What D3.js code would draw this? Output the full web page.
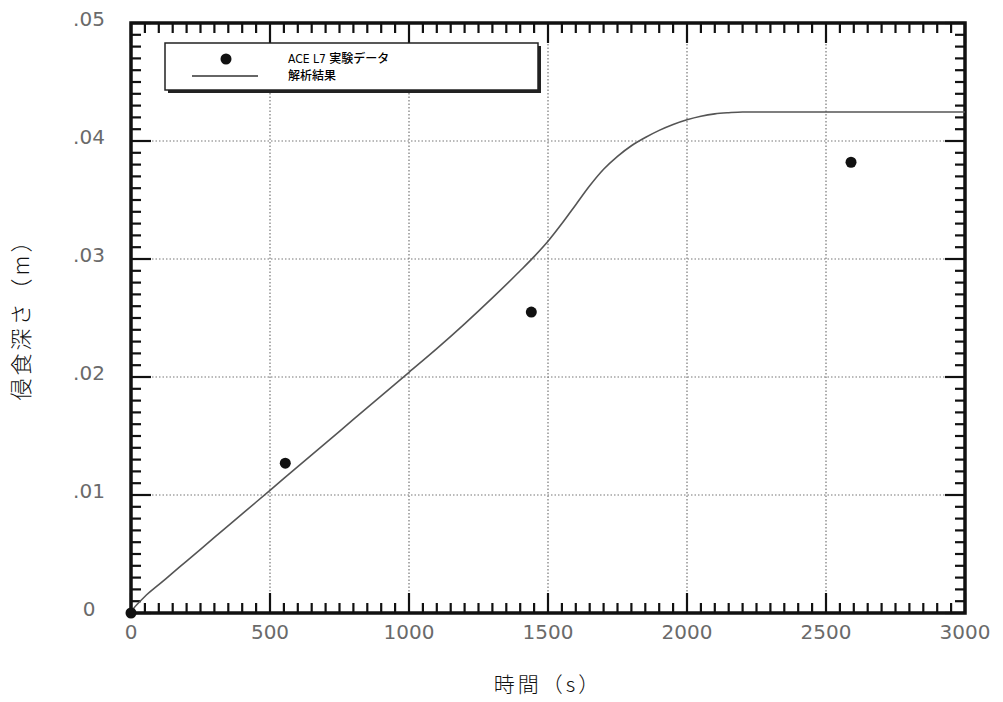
<!DOCTYPE html>
<html><head><meta charset="utf-8">
<script src="https://cdn.jsdelivr.net/npm/d3@7"></script>
<style>body{margin:0;background:#fff}</style>
</head><body>
<svg id="c" width="1003" height="702"></svg>
<script>
// ---- data ----
const xTicks = [0, 500, 1000, 1500, 2000, 2500, 3000];
const xTickLabels = ["0", "500", "1000", "1500", "2000", "2500", "3000"];
const yTicks = [0, 0.01, 0.02, 0.03, 0.04, 0.05];
const yTickLabels = ["0", ".01", ".02", ".03", ".04", ".05"];
const expTime = [0, 555, 1440, 2590];
const expDepth = [0, 0.0127, 0.0255, 0.0382];
const simTime = [0,10,25,50,100,150,200,300,400,500,600,700,800,900,1000,1100,1200,1300,1400,1450,1500,1550,1600,1650,1700,1750,1800,1850,1900,1950,2000,2050,2100,2150,2200,3000];
const simDepth = [0,0.0004,0.0008,0.0014,0.0024,0.0034,0.0044,0.0064,0.0084,0.0104,0.0124,0.0144,0.0164,0.0184,0.0204,0.0224,0.0245,0.0267,0.0290,0.0302,0.0315,0.0330,0.0346,0.0362,0.0376,0.0387,0.0396,0.0403,0.0409,0.0414,0.0418,0.0421,0.0423,0.0424,0.04246,0.04246];
const legendLabels = ["ACE L7 実験データ", "解析結果"];
const xTitle = "時間（s）";
const yTitle = "侵食深さ（m）";

// ---- layout ----
const L = 131, R = 965, T = 23, B = 613;
const svg = d3.select("#c");
const x = d3.scaleLinear().domain([0, 3000]).range([L, R]);
const y = d3.scaleLinear().domain([0, 0.05]).range([B, T]);

// grid
const grid = svg.append("g").attr("stroke", "#777").attr("stroke-width", 1.2).attr("stroke-dasharray", "1.5,2");
grid.selectAll("line.gx").data(xTicks.slice(1, -1)).join("line").attr("class", "gx")
  .attr("x1", d => x(d)).attr("x2", d => x(d)).attr("y1", T).attr("y2", B);
grid.selectAll("line.gy").data(yTicks.slice(1, -1)).join("line").attr("class", "gy")
  .attr("x1", L).attr("x2", R).attr("y1", d => y(d)).attr("y2", d => y(d));

// ticks (inner, all four sides)
const xAll = d3.range(0, 61).map(i => i * 50);
const yAll = d3.range(0, 51).map(i => i / 1000);
const tk = svg.append("g").attr("stroke", "#111").attr("stroke-width", 2.2);
const tLen = (d, i) => (i % 10 === 0 ? 20 : 10);
[B, T].forEach((base, s) => {
  const dir = s === 0 ? -1 : 1;
  tk.append("g").selectAll("line").data(xAll).join("line")
    .attr("x1", d => x(d)).attr("x2", d => x(d))
    .attr("y1", base).attr("y2", (d, i) => base + dir * tLen(d, i));
});
[L, R].forEach((base, s) => {
  const dir = s === 0 ? 1 : -1;
  tk.append("g").selectAll("line").data(yAll).join("line")
    .attr("y1", d => y(d)).attr("y2", d => y(d))
    .attr("x1", base).attr("x2", (d, i) => base + dir * tLen(d, i));
});

// frame
svg.append("rect").attr("x", L).attr("y", T).attr("width", R - L).attr("height", B - T)
  .attr("fill", "none").attr("stroke", "#111").attr("stroke-width", 3.5);

// tick labels
const lblFont = "'DejaVu Sans', Verdana, sans-serif";
svg.append("g").selectAll("text").data(xTicks).join("text")
  .attr("x", d => x(d)).attr("y", 639).attr("text-anchor", "middle")
  .attr("font-family", lblFont).attr("font-size", 20).attr("fill", "#6a6a6a")
  .text((d, i) => xTickLabels[i]);
svg.append("g").selectAll("text").data(yTicks).join("text")
  .attr("x", 89).attr("y", d => y(d) + 3).attr("text-anchor", "middle")
  .attr("font-family", lblFont).attr("font-size", 20).attr("fill", "#6a6a6a")
  .text((d, i) => yTickLabels[i]);

// curve
const line = d3.line().x(d => x(d[0])).y(d => y(d[1])).curve(d3.curveMonotoneX);
svg.append("path").datum(simTime.map((t, i) => [t, simDepth[i]]))
  .attr("d", line).attr("fill", "none").attr("stroke", "#555").attr("stroke-width", 1.6);

// points
svg.append("g").selectAll("circle").data(expTime.map((t, i) => [t, expDepth[i]])).join("circle")
  .attr("cx", d => x(d[0])).attr("cy", d => y(d[1])).attr("r", 5.5).attr("fill", "#111");

// legend
const lg = svg.append("g");
lg.append("rect").attr("x", 168).attr("y", 46).attr("width", 373).attr("height", 47).attr("fill", "#222");
lg.append("rect").attr("x", 165).attr("y", 43).attr("width", 373).attr("height", 47)
  .attr("fill", "#fff").attr("stroke", "#222").attr("stroke-width", 1.5);
lg.append("circle").attr("cx", 226).attr("cy", 59).attr("r", 5.5).attr("fill", "#111");
lg.append("line").attr("x1", 192).attr("x2", 258).attr("y1", 76).attr("y2", 76)
  .attr("stroke", "#333").attr("stroke-width", 1.6);
const legFont = "'DejaVu Sans Condensed', 'Liberation Sans Narrow', 'Noto Sans CJK JP', sans-serif";
lg.selectAll("text").data(legendLabels).join("text")
  .attr("x", 288).attr("y", (d, i) => 63 + i * 17)
  .attr("font-family", legFont).attr("font-size", 12).attr("font-weight", 500).attr("fill", "#000")
  .text(d => d);

// axis titles
const titleFont = "'Noto Sans CJK JP', sans-serif";
svg.append("text").attr("x", 548).attr("y", 692).attr("text-anchor", "middle")
  .attr("font-family", titleFont).attr("font-size", 21).attr("font-weight", 300).attr("fill", "#111")
  .attr("letter-spacing", 3).text(xTitle);
svg.append("text").attr("transform", "translate(29,314) rotate(-90)").attr("text-anchor", "middle")
  .attr("font-family", titleFont).attr("font-size", 22).attr("font-weight", 300).attr("fill", "#111")
  .attr("letter-spacing", 3).text(yTitle);
</script>
</body></html>
